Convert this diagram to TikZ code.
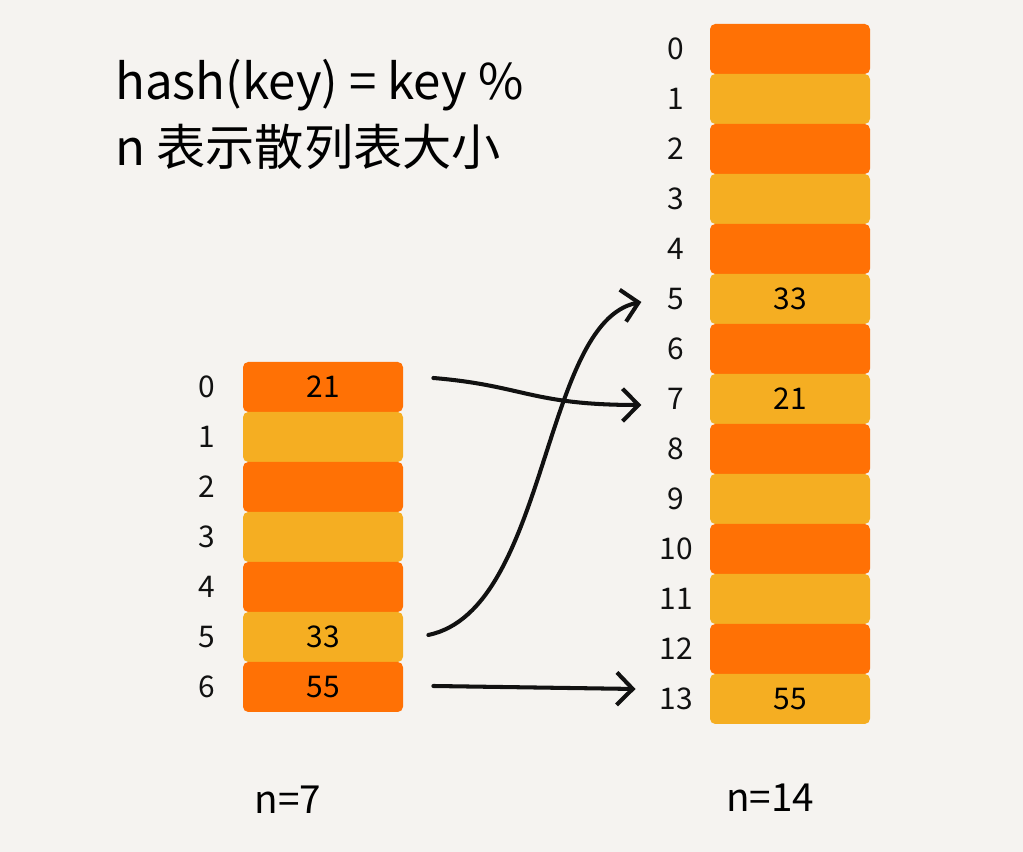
\documentclass[tikz,border=0pt]{standalone}
\usepackage{fontspec}
\setmainfont{Noto Sans CJK SC}
\usepackage{tikz}
\usetikzlibrary{arrows.meta,positioning,calc}
\usepackage{xcolor}
\definecolor{paperBg}{HTML}{F5F3F0}
\definecolor{slotOrange}{HTML}{FF7105}
\definecolor{slotYellow}{HTML}{F5AE22}
\definecolor{inkBlack}{HTML}{111111}

\begin{document}
\begin{tikzpicture}[
        cell/.style={
            rounded corners=3pt,
            minimum width=3.2cm,
            minimum height=1.0cm,
            inner sep=0pt,
            font=\fontsize{17}{17}\selectfont,
            text=inkBlack
        },
        idx/.style={
            font=\fontsize{17}{17}\selectfont,
            text=inkBlack,
            inner sep=2pt
        },
        arrow/.style={
            -{Straight Barb[length=3.2mm,width=6.5mm,line width=2.3pt]},
            line width=2.3pt,
            draw=inkBlack,
            line cap=round
        }
    ]

    \fill[paperBg] (0,0) rectangle (20.46,17.04);
    \useasboundingbox (0,0) rectangle (20.46,17.04);

    % formula
    \node[anchor=base west, font=\fontsize{28}{28}\selectfont, inner sep=0pt] (formula) at (2.3,15.05)
        {hash(key) = key \%};
    \node[anchor=base west, font=\fontsize{28}{28}\selectfont, inner sep=0pt] (meaning) at (2.3,13.72)
        {n 表示散列表大小};

    % old table, n=7
    \foreach \i in {0,...,6} {
        \pgfmathtruncatemacro{\odd}{mod(\i,2)}
        \ifnum\odd=0 \def\slotcol{slotOrange}\else \def\slotcol{slotYellow}\fi
        \node[cell, fill=\slotcol] (old\i) at (6.46,9.3-\i) {};
        \node[idx] (oldidx\i) at (4.14,9.3-\i) {\i};
    }
    \node[font=\fontsize{17}{17}\selectfont] at (old0) {21};
    \node[font=\fontsize{17}{17}\selectfont] at (old5) {33};
    \node[font=\fontsize{17}{17}\selectfont] at (old6) {55};

    % new table, n=14
    \foreach \i in {0,...,13} {
        \pgfmathtruncatemacro{\odd}{mod(\i,2)}
        \ifnum\odd=0 \def\slotcol{slotOrange}\else \def\slotcol{slotYellow}\fi
        \node[cell, fill=\slotcol] (new\i) at (15.8,16.06-\i) {};
        \node[idx] (newidx\i) at (13.52,16.06-\i) {\i};
    }
    \node[font=\fontsize{17}{17}\selectfont] at (new5) {33};
    \node[font=\fontsize{17}{17}\selectfont] at (new7) {21};
    \node[font=\fontsize{17}{17}\selectfont] at (new13) {55};

    \node[font=\fontsize{22}{22}\selectfont] (nold) at (5.76,1.04) {n=7};
    \node[font=\fontsize{22}{22}\selectfont] (nnew) at (15.4,1.08) {n=14};

    \draw[arrow] ([xshift=0.6cm,yshift=0.18cm]old0.east)
        .. controls +(1.8,-0.15) and +(-2.2,0) .. ([xshift=-0.45cm,yshift=-0.12cm]newidx7.west);
    \draw[arrow] ([xshift=0.5cm,yshift=0.04cm]old5.east)
        .. controls +(2.4,0.5) and +(-2.0,-0.4) .. ([xshift=-0.45cm,yshift=-0.06cm]newidx5.west);
    \draw[arrow] ([xshift=0.6cm,yshift=0.02cm]old6.east)
        -- ([xshift=-0.4cm,yshift=0.2cm]newidx13.west);

\end{tikzpicture}
\end{document}
